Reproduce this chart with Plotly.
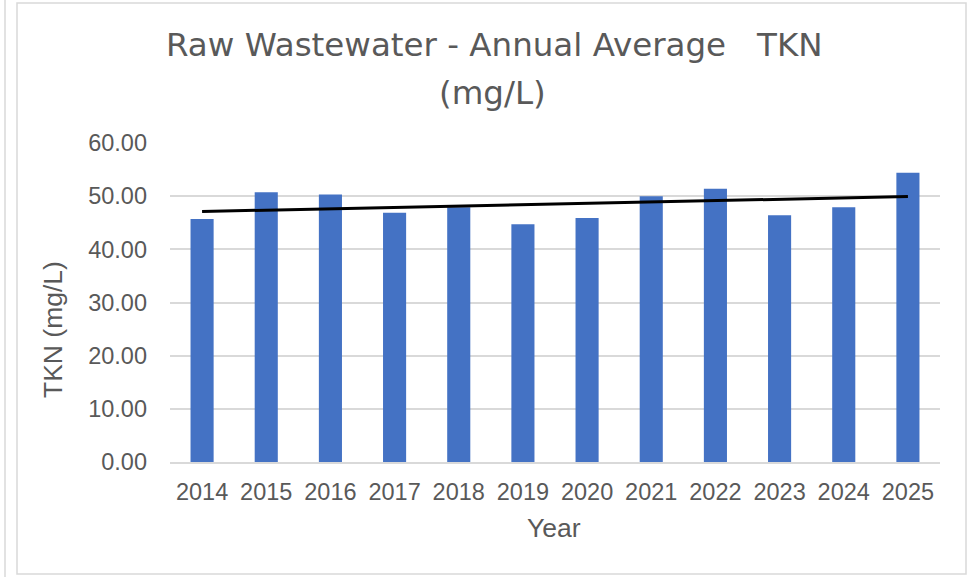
import numpy as np
import plotly.graph_objects as go

years = ["2014", "2015", "2016", "2017", "2018", "2019", "2020", "2021", "2022", "2023", "2024", "2025"]
tkn = [45.7, 50.75, 50.3, 46.9, 47.9, 44.7, 45.9, 50.0, 51.4, 46.4, 47.9, 54.4]
y_ticks = [0, 10, 20, 30, 40, 50, 60]
title_line1 = "Raw Wastewater - Annual Average\u00a0\u00a0 TKN"
title_line2 = "(mg/L)"
x_title = "Year"
y_title = "TKN (mg/L)"

# linear trendline (as in the spreadsheet chart)
xi = np.arange(len(tkn))
slope, intercept = np.polyfit(xi, tkn, 1)
trend = [intercept + slope * xi[0], intercept + slope * xi[-1]]

W, H = 971, 577
L, R, T, B = 170, 31, 143, 115
pw, ph = W - L - R, H - T - B

def px(x):
    return (x - L) / pw

def py(y):
    return (H - B - y) / ph

GREY = "#595959"
font = "Liberation Sans, Arial, sans-serif"

fig = go.Figure()
fig.add_trace(go.Bar(x=years, y=tkn, marker=dict(color="#4472C4", line=dict(width=0)),
                     showlegend=False, hoverinfo="x+y"))
fig.add_trace(go.Scatter(x=[years[0], years[-1]], y=trend, mode="lines",
                         line=dict(color="black", width=3), showlegend=False))

fig.update_layout(
    width=W, height=H,
    margin=dict(l=L, r=R, t=T, b=B, autoexpand=False),
    paper_bgcolor="white", plot_bgcolor="white",
    bargap=0.64,
    font=dict(family=font, color=GREY),
    xaxis=dict(tickfont=dict(size=23.5, color=GREY),
               showgrid=False, showline=True, linecolor="#D9D9D9", linewidth=1.5,
               ticks="", fixedrange=True, ticklabelstandoff=8),
    yaxis=dict(range=[0, 60], tickvals=y_ticks, tickformat=".2f",
               tickfont=dict(size=23.5, color=GREY),
               showgrid=True, gridcolor="#D9D9D9", gridwidth=1.5,
               zeroline=False, showline=False, ticks="", ticklabelstandoff=22),
    annotations=[
        dict(text=title_line1, xref="paper", yref="paper", x=px(494), y=py(45),
             xanchor="center", yanchor="middle", showarrow=False,
             font=dict(size=32.5, color=GREY, family="DejaVu Sans, sans-serif")),
        dict(text=title_line2, xref="paper", yref="paper", x=px(492), y=py(93),
             xanchor="center", yanchor="middle", showarrow=False,
             font=dict(size=32.5, color=GREY, family="DejaVu Sans, sans-serif")),
        dict(text=x_title, xref="paper", yref="paper", x=px(554), y=py(528),
             xanchor="center", yanchor="middle", showarrow=False,
             font=dict(size=26.5, color=GREY)),
        dict(text=y_title, xref="paper", yref="paper", x=px(53), y=py(330),
             xanchor="center", yanchor="middle", showarrow=False, textangle=-90,
             font=dict(size=26.5, color=GREY)),
    ],
    shapes=[
        dict(type="rect", xref="paper", yref="paper",
             x0=px(17), x1=px(966), y0=py(574), y1=py(3),
             line=dict(color="#D9D9D9", width=1.5), fillcolor="rgba(0,0,0,0)", layer="below"),
        dict(type="line", xref="paper", yref="paper",
             x0=px(5), x1=px(5), y0=py(577), y1=py(0),
             line=dict(color="#D9D9D9", width=1.5)),
    ],
)

fig.write_html("out.html", config={"displayModeBar": False},
               post_script="document.body.style.margin='0';")
